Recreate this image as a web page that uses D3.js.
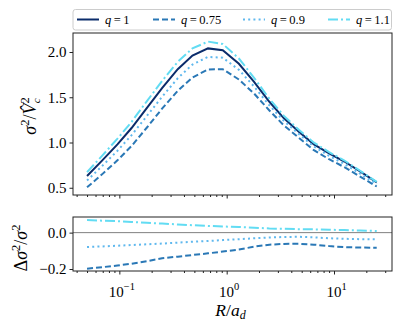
<!DOCTYPE html>
<html>
<head>
<meta charset="utf-8">
<script src="https://cdn.jsdelivr.net/npm/d3@7"></script>
<style>
  body { margin: 0; background: #fff; }
  .axis path, .axis line { stroke: #222; }
</style>
</head>
<body>
<div id="chart"></div>
<script>
// R / a_d sample points
var radii = [0.05, 0.069, 0.096, 0.13, 0.18, 0.25, 0.35, 0.48, 0.67, 0.92,
             1.3, 1.8, 2.5, 3.4, 4.7, 6.5, 9.0, 12.5, 17.5, 25]

// sigma^2 / Vc^2 for each flattening q
var sigQ100 = [0.63, 0.80, 0.98, 1.16, 1.38, 1.60, 1.81, 1.96, 2.04, 2.02,
               1.87, 1.67, 1.45, 1.27, 1.12, 0.98, 0.88, 0.79, 0.68, 0.56]
var sigQ075 = [0.505, 0.648, 0.803, 0.962, 1.163, 1.374, 1.571, 1.719, 1.807, 1.810,
               1.696, 1.541, 1.354, 1.191, 1.052, 0.915, 0.815, 0.727, 0.624, 0.514]
var sigQ090 = [0.580, 0.739, 0.909, 1.081, 1.292, 1.504, 1.710, 1.862, 1.946, 1.937,
               1.803, 1.618, 1.411, 1.240, 1.094, 0.955, 0.853, 0.763, 0.656, 0.539]
var sigQ110 = [0.673, 0.853, 1.042, 1.228, 1.455, 1.680, 1.891, 2.040, 2.115, 2.089,
               1.928, 1.715, 1.483, 1.297, 1.141, 0.998, 0.894, 0.801, 0.688, 0.565]

// relative difference to q = 1
var diffQ075 = [-0.198, -0.190, -0.181, -0.171, -0.157, -0.141, -0.132, -0.123, -0.114, -0.104,
                -0.093, -0.077, -0.066, -0.062, -0.061, -0.066, -0.074, -0.080, -0.082, -0.083]
var diffQ090 = [-0.079, -0.076, -0.072, -0.068, -0.064, -0.060, -0.055, -0.050, -0.046, -0.041,
                -0.036, -0.031, -0.027, -0.024, -0.023, -0.026, -0.031, -0.034, -0.036, -0.037]
var diffQ110 = [0.069, 0.066, 0.063, 0.059, 0.054, 0.050, 0.045, 0.041, 0.037, 0.034,
                0.031, 0.027, 0.023, 0.021, 0.019, 0.018, 0.016, 0.014, 0.012, 0.009]

var qLabels = ['1', '0.75', '0.9', '1.1']
var xMajor = [0.1, 1, 10]
var xMinor = [0.04, 0.05, 0.06, 0.07, 0.08, 0.09, 0.2, 0.3, 0.4, 0.5, 0.6, 0.7, 0.8, 0.9,
              2, 3, 4, 5, 6, 7, 8, 9, 20, 30]
var yTopTicks = [0.5, 1.0, 1.5, 2.0]
var yBotTicks = [-0.2, 0.0]

var series = [
  {q: qLabels[0], top: sigQ100, bot: null,     color: '#0b2c6b', dash: null},
  {q: qLabels[1], top: sigQ075, bot: diffQ075, color: '#2a78b6', dash: '6,3'},
  {q: qLabels[2], top: sigQ090, bot: diffQ090, color: '#5fb8ee', dash: '2,3.2'},
  {q: qLabels[3], top: sigQ110, bot: diffQ110, color: '#62dcf3', dash: '10,3,2,3'}
]

var serif = "'Liberation Serif'"
var width = 407, height = 333
var svg = d3.select('#chart').append('svg')
  .attr('width', width)
  .attr('height', height)
  .style('font-family', serif)

var left = 73, right = 392
var topPanel = {top: 33, bottom: 195}
var botPanel = {top: 217, bottom: 271}

var x = d3.scaleLog().domain([0.037, 34.7]).range([left, right])
var yTop = d3.scaleLinear().domain([0.42, 2.21]).range([topPanel.bottom, topPanel.top])
var yBot = d3.scaleLinear().domain([-0.211, 0.086]).range([botPanel.bottom, botPanel.top])

// draw one panel: clip, ticks
function drawPanel(p, y, yTicks, key) {
  svg.append('defs').append('clipPath').attr('id', 'clip-' + key)
    .append('rect')
      .attr('x', left).attr('y', p.top)
      .attr('width', right - left).attr('height', p.bottom - p.top)

  // x minor ticks
  svg.append('g')
      .attr('class', 'axis')
      .attr('transform', 'translate(0,' + p.bottom + ')')
      .call(d3.axisBottom(x).tickValues(xMinor).tickSize(2).tickFormat(''))
    .select('.domain').remove()

  var gx = svg.append('g')
      .attr('class', 'axis')
      .attr('transform', 'translate(0,' + p.bottom + ')')
      .call(d3.axisBottom(x).tickValues(xMajor).tickSize(3.5).tickFormat(''))
  gx.select('.domain').remove()

  var gy = svg.append('g')
      .attr('class', 'axis')
      .attr('transform', 'translate(' + left + ',0)')
      .call(d3.axisLeft(y).tickValues(yTicks).tickSize(3.5).tickPadding(3).tickFormat(d3.format('.1f')))
  gy.select('.domain').remove()
  gy.attr('font-family', serif)
  gy.selectAll('text').style('font-size', '15px').style('font-family', serif).attr('fill', '#000')

  return gx
}

var gxTop = drawPanel(topPanel, yTop, yTopTicks, 'top')
var gxBot = drawPanel(botPanel, yBot, yBotTicks, 'bot')

// x tick labels as 10^n
gxBot.attr('font-family', serif)
gxBot.selectAll('.tick').each(function(d) {
  var t = d3.select(this).append('text')
    .attr('y', 26)
    .attr('x', 2)
    .attr('text-anchor', 'middle')
    .attr('fill', '#000')
    .style('font-family', serif)
    .style('font-size', '15px')
  t.append('tspan').text('10')
  t.append('tspan')
    .attr('dy', -7)
    .style('font-size', '10.5px')
    .text(d3.format('d')(Math.log10(d)).replace('-', '\u2212'))
})

// zero line in the lower panel
svg.append('line')
  .attr('x1', left).attr('x2', right)
  .attr('y1', yBot(0)).attr('y2', yBot(0))
  .attr('stroke', '#808080')
  .attr('stroke-width', 1)

var lineTop = d3.line()
  .x(function(d) { return x(d.r) })
  .y(function(d) { return yTop(d.v) })
var lineBot = d3.line()
  .x(function(d) { return x(d.r) })
  .y(function(d) { return yBot(d.v) })

function pts(vals) {
  return vals.map(function(v, i) { return {r: radii[i], v: v} })
}

series.forEach(function(s) {
  svg.append('path')
    .attr('clip-path', 'url(#clip-top)')
    .attr('d', lineTop(pts(s.top)))
    .attr('fill', 'none')
    .attr('stroke', s.color)
    .attr('stroke-width', 2)
    .attr('stroke-dasharray', s.dash)
})

series.filter(function(s) { return s.bot }).forEach(function(s) {
  svg.append('path')
    .attr('clip-path', 'url(#clip-bot)')
    .attr('d', lineBot(pts(s.bot)))
    .attr('fill', 'none')
    .attr('stroke', s.color)
    .attr('stroke-width', 2)
    .attr('stroke-dasharray', s.dash)
})

// frames
;[topPanel, botPanel].forEach(function(p) {
  svg.append('rect')
    .attr('x', left).attr('y', p.top)
    .attr('width', right - left).attr('height', p.bottom - p.top)
    .attr('fill', 'none')
    .attr('stroke', '#222')
    .attr('stroke-width', 1)
})

// axis labels
var yl1 = svg.append('text')
  .attr('transform', 'translate(36,' + ((topPanel.top + topPanel.bottom) / 2 + 2) + ') rotate(-90)')
  .attr('text-anchor', 'middle')
  .style('font-size', '18px')
yl1.append('tspan').style('font-style', 'italic').text('\u03c3')
yl1.append('tspan').attr('dy', -7).style('font-size', '12.5px').text('2')
yl1.append('tspan').attr('dy', 7).text('/')
yl1.append('tspan').style('font-style', 'italic').text('V\u0302')
yl1.append('tspan').attr('dy', -7).style('font-size', '12.5px').text('2')
yl1.append('tspan').attr('dy', 11).attr('dx', -6).style('font-size', '11px').style('font-style', 'italic').text('c')

var yl2 = svg.append('text')
  .attr('transform', 'translate(27,' + ((botPanel.top + botPanel.bottom) / 2 + 4) + ') rotate(-90)')
  .attr('text-anchor', 'middle')
  .style('font-size', '18px')
yl2.append('tspan').text('\u0394')
yl2.append('tspan').style('font-style', 'italic').text('\u03c3')
yl2.append('tspan').attr('dy', -7).style('font-size', '12.5px').text('2')
yl2.append('tspan').attr('dy', 7).text('/')
yl2.append('tspan').style('font-style', 'italic').text('\u03c3')
yl2.append('tspan').attr('dy', -7).style('font-size', '12.5px').text('2')

var xl = svg.append('text')
  .attr('x', (left + right) / 2 - 2)
  .attr('y', 316)
  .attr('text-anchor', 'middle')
  .style('font-size', '17.5px')
xl.append('tspan').style('font-style', 'italic').text('R')
xl.append('tspan').text('/')
xl.append('tspan').style('font-style', 'italic').text('a')
xl.append('tspan').attr('dy', 3).style('font-size', '12px').style('font-style', 'italic').text('d')

// legend
var legend = svg.append('g')
legend.append('rect')
  .attr('x', 73).attr('y', 9.5)
  .attr('width', 318.5).attr('height', 20.5)
  .attr('rx', 2.5)
  .attr('fill', '#fff')
  .attr('stroke', '#cccccc')
  .attr('stroke-width', 1)

var legendX = [77, 153, 243, 328]
series.forEach(function(s, i) {
  legend.append('line')
    .attr('x1', legendX[i]).attr('x2', legendX[i] + 22)
    .attr('y1', 19.5).attr('y2', 19.5)
    .attr('stroke', s.color)
    .attr('stroke-width', 2)
    .attr('stroke-dasharray', s.dash)
  var t = legend.append('text')
    .attr('x', legendX[i] + 28)
    .attr('y', 23.5)
    .style('font-size', '12.5px')
  t.append('tspan').style('font-style', 'italic').text('q')
  t.append('tspan').text('\u2009=\u2009' + s.q)
})
</script>
</body>
</html>
